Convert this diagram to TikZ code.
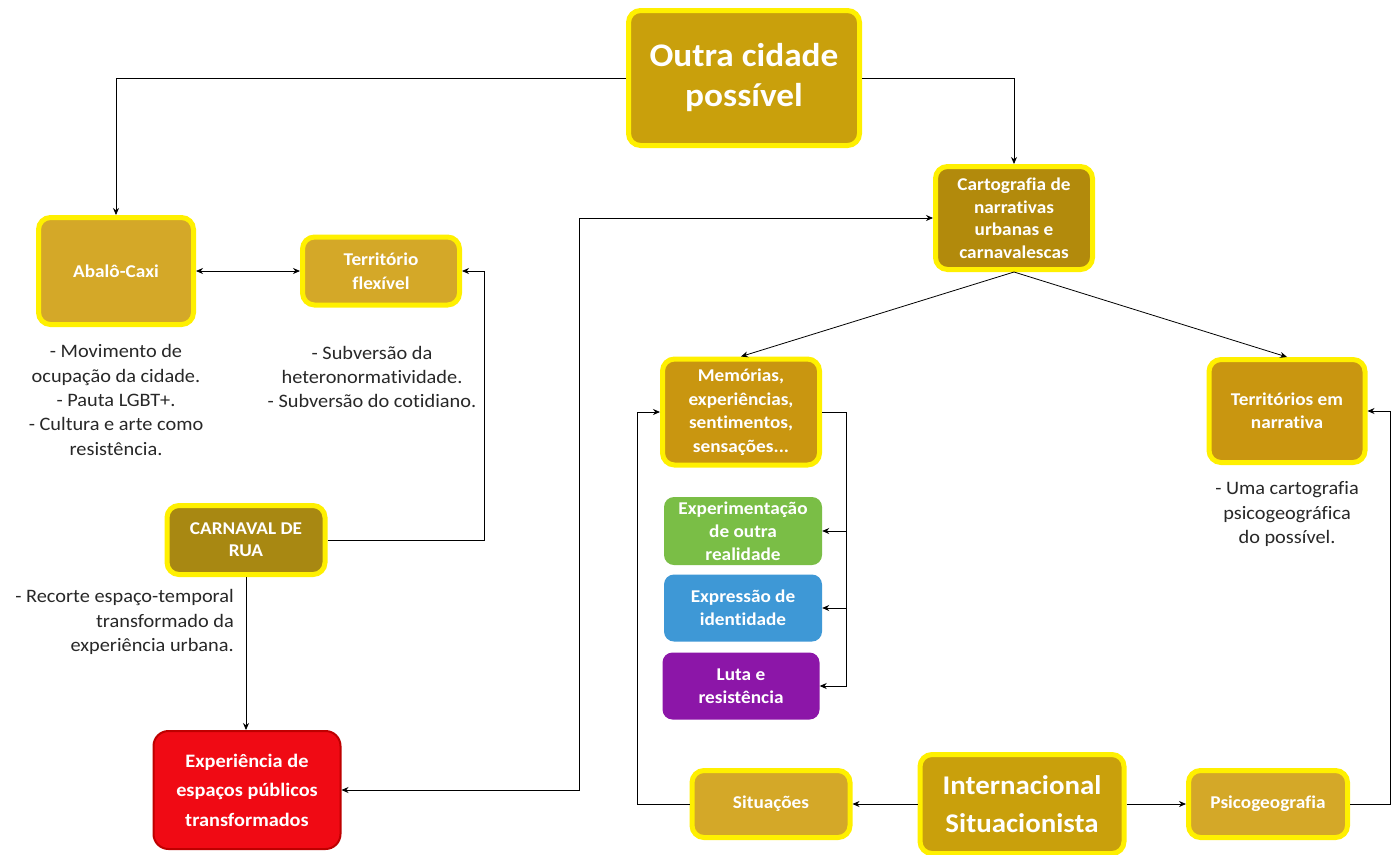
\documentclass[tikz,border=0pt]{standalone}
\usepackage{fontspec}
\setmainfont{Carlito}[FakeStretch=1.07, Ligatures=NoCommon]
\usetikzlibrary{arrows.meta}
\definecolor{ybord}{RGB}{255,240,0}
\definecolor{goldA}{RGB}{201,160,12}
\definecolor{goldB}{RGB}{212,168,40}
\definecolor{goldC}{RGB}{168,136,18}
\definecolor{goldD}{RGB}{178,138,12}
\definecolor{goldE}{RGB}{201,150,16}
\definecolor{redF}{RGB}{240,10,20}
\definecolor{redB}{RGB}{190,0,0}
\definecolor{grnF}{RGB}{122,190,70}
\definecolor{bluF}{RGB}{62,152,214}
\definecolor{purF}{RGB}{140,22,168}
\definecolor{txt}{RGB}{40,40,40}
\tikzset{
  box/.style={rounded corners=12pt, draw=ybord, line width=5pt, text=white, align=center, inner sep=1pt,
    font=\bfseries\fontsize{18}{22.5}\selectfont},
  cbox/.style={rounded corners=10pt, text=white, align=center, inner sep=1pt,
    font=\bfseries\fontsize{18}{23}\selectfont},
  plain/.style={text=txt, align=center, inner sep=0pt, font=\fontsize{19}{24.3}\selectfont},
  arr/.style={-{Stealth[length=7pt,width=6pt]}, line width=0.8pt},
  arr2/.style={{Stealth[length=7pt,width=6pt]}-{Stealth[length=7pt,width=6pt]}, line width=0.8pt}
}
\begin{document}
\begin{tikzpicture}[x=1pt,y=-1pt]
\path[use as bounding box, fill=white] (0,0) rectangle (1399,854);

\node[box, fill=goldA, minimum width=231pt, minimum height=135pt, font=\bfseries\fontsize{33}{43}\selectfont] (outra) at (744,78) {\raisebox{-4pt}{\begin{tabular}{@{}c@{}}Outra cidade\\[-3pt]possível\end{tabular}}};
\node[box, fill=goldB, minimum width=155pt, minimum height=107pt, font=\bfseries\fontsize{18}{24}\selectfont] (abalo) at (116,271) {Abalô-Caxi};
\node[box, fill=goldB, minimum width=157pt, minimum height=68pt, font=\bfseries\fontsize{18}{24}\selectfont] (terf) at (381,271) {Território\\flexível};
\node[box, fill=goldC, minimum width=158pt, minimum height=69pt, font=\bfseries\fontsize{18}{22}\selectfont] (carn) at (246,540) {CARNAVAL DE\\RUA};
\node[rounded corners=15pt, draw=redB, line width=2pt, fill=redF, text=white, align=center, inner sep=1pt, minimum width=187pt, minimum height=118pt, font=\bfseries\fontsize{19}{29.5}\selectfont] (exp) at (247,790) {Experiência de\\espaços públicos\\transformados};
\node[box, fill=goldD, minimum width=157pt, minimum height=103pt] (cart) at (1014,218) {Cartografia de\\narrativas\\urbanas e\\carnavalescas};
\node[box, fill=goldE, minimum width=157pt, minimum height=106pt, font=\bfseries\fontsize{18}{23.5}\selectfont] (mem) at (741,412) {Memórias,\\experiências,\\sentimentos,\\sensações...};
\node[cbox, fill=grnF, minimum width=158pt, minimum height=68pt] (expe) at (743,531) {Experimentação\\de outra\\realidade};
\node[cbox, fill=bluF, minimum width=158pt, minimum height=67pt] (expr) at (743,608) {Expressão de\\identidade};
\node[cbox, fill=purF, minimum width=157pt, minimum height=67pt] (luta) at (741,686) {Luta e\\resistência};
\node[box, fill=goldE, minimum width=156pt, minimum height=103pt, font=\bfseries\fontsize{18}{23}\selectfont] (terr) at (1287,411) {Territórios em\\narrativa};
\node[box, fill=goldB, minimum width=158pt, minimum height=67pt] (sit) at (771,804) {Situações};
\node[box, fill=goldA, minimum width=204pt, minimum height=99pt, font=\bfseries\fontsize{27}{38}\selectfont] (int) at (1022,804) {Internacional\\Situacionista};
\node[box, fill=goldB, minimum width=159pt, minimum height=67pt] (psi) at (1268,804) {Psicogeografia};

\node[plain] (tabalo) at (116,400) {- Movimento de\\ocupação da cidade.\\- Pauta LGBT+.\\- Cultura e arte como\\resistência.};
\node[plain] (tterf) at (372,377) {- Subversão da\\heteronormatividade.\\- Subversão do cotidiano.};
\node[plain, align=right, anchor=east] (tcarn) at (234,622) {- Recorte espaço-temporal\\transformado da\\experiência urbana.};
\node[plain] (tterr) at (1287,514) {- Uma cartografia\\psicogeográfica\\do possível.};

\draw[arr] (outra.west) -| (abalo.north);
\draw[arr] (outra.east) -| (cart.north);
\draw[arr2] (abalo.east) -- (terf.west);
\draw[arr] (carn.east) -- ++(157,0) |- (terf.east);
\draw[arr] (carn.south) -- (carn.south |- exp.north);
\draw[arr2] (exp.east) -- ++(238,0) |- (cart.west);
\draw[arr] (cart.south) -- (mem.north);
\draw[arr] (cart.south) -- (terr.north);
\draw[arr] (mem.east) -- ++(24,0) |- (expe.east);
\draw[arr] (mem.east) -- ++(24,0) |- (expr.east);
\draw[arr] (mem.east) -- ++(24,0) |- (luta.east);
\draw[arr] (sit.west) -- ++(-52,0) |- (mem.west);
\draw[arr] (int.west) -- (sit.east);
\draw[arr] (int.east) -- (psi.west);
\draw[arr] (psi.east) -- ++(40,0) |- (terr.east);
\end{tikzpicture}
\end{document}
